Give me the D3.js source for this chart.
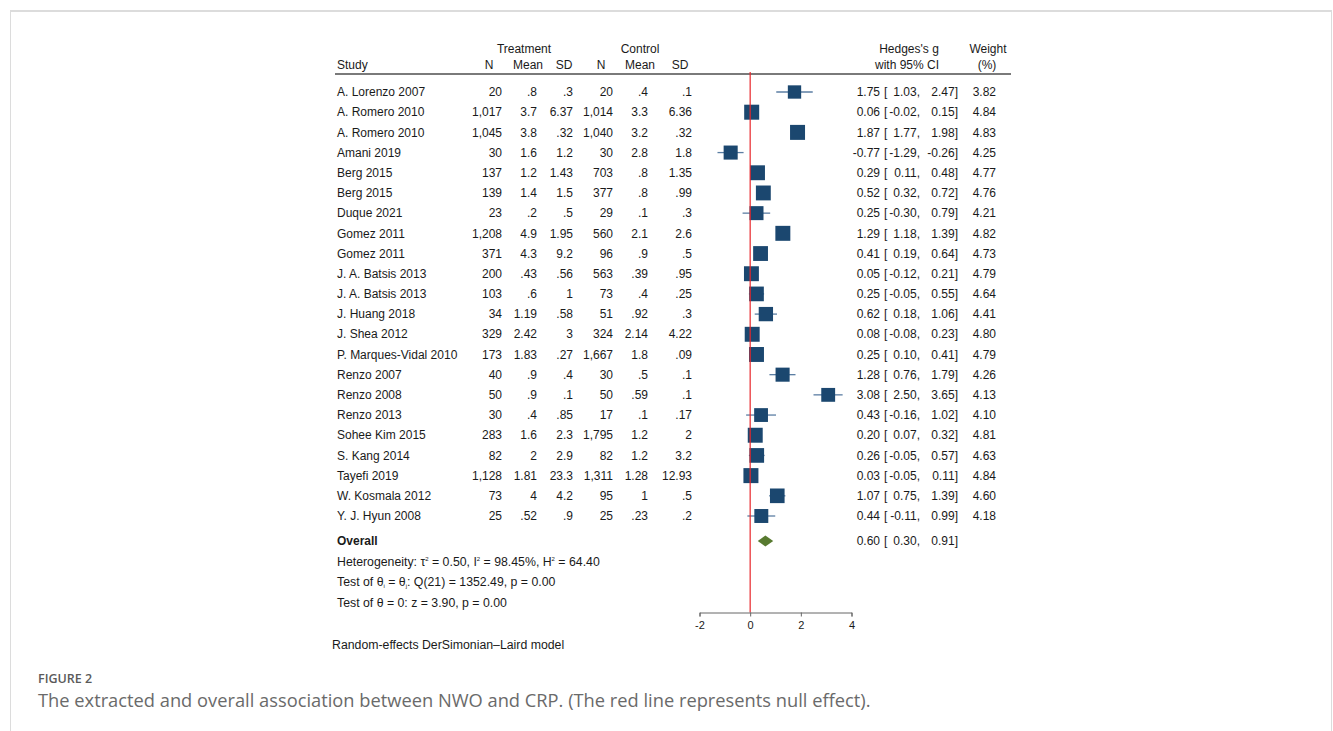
<!DOCTYPE html>
<html>
<head>
<meta charset="utf-8">
<script src="https://cdn.jsdelivr.net/npm/d3@7"></script>
<style>
  body { margin: 0; background: #fff; }
  svg text { font-family: "Liberation Sans", Arial, sans-serif; fill: #1a1a1a; }
  svg text.cap { font-family: "Open Sans", Lato, sans-serif; fill: #6a6a6a; }
</style>
</head>
<body>
<script>
var studies = ["A. Lorenzo 2007", "A. Romero 2010", "A. Romero 2010", "Amani 2019", "Berg 2015", "Berg 2015",
  "Duque 2021", "Gomez 2011", "Gomez 2011", "J. A. Batsis 2013", "J. A. Batsis 2013", "J. Huang 2018",
  "J. Shea 2012", "P. Marques-Vidal 2010", "Renzo 2007", "Renzo 2008", "Renzo 2013", "Sohee Kim 2015",
  "S. Kang 2014", "Tayefi 2019", "W. Kosmala 2012", "Y. J. Hyun 2008"]
var trtN    = [20, 1017, 1045, 30, 137, 139, 23, 1208, 371, 200, 103, 34, 329, 173, 40, 50, 30, 283, 82, 1128, 73, 25]
var trtMean = [.8, 3.7, 3.8, 1.6, 1.2, 1.4, .2, 4.9, 4.3, .43, .6, 1.19, 2.42, 1.83, .9, .9, .4, 1.6, 2, 1.81, 4, .52]
var trtSD   = [.3, 6.37, .32, 1.2, 1.43, 1.5, .5, 1.95, 9.2, .56, 1, .58, 3, .27, .4, .1, .85, 2.3, 2.9, 23.3, 4.2, .9]
var ctlN    = [20, 1014, 1040, 30, 703, 377, 29, 560, 96, 563, 73, 51, 324, 1667, 30, 50, 17, 1795, 82, 1311, 95, 25]
var ctlMean = [.4, 3.3, 3.2, 2.8, .8, .8, .1, 2.1, .9, .39, .4, .92, 2.14, 1.8, .5, .59, .1, 1.2, 1.2, 1.28, 1, .23]
var ctlSD   = [.1, 6.36, .32, 1.8, 1.35, .99, .3, 2.6, .5, .95, .25, .3, 4.22, .09, .1, .1, .17, 2, 3.2, 12.93, .5, .2]
var hedgesG = [1.75, 0.06, 1.87, -0.77, 0.29, 0.52, 0.25, 1.29, 0.41, 0.05, 0.25, 0.62, 0.08, 0.25, 1.28, 3.08, 0.43, 0.20, 0.26, 0.03, 1.07, 0.44]
var ciLow   = [1.03, -0.02, 1.77, -1.29, 0.11, 0.32, -0.30, 1.18, 0.19, -0.12, -0.05, 0.18, -0.08, 0.10, 0.76, 2.50, -0.16, 0.07, -0.05, -0.05, 0.75, -0.11]
var ciHigh  = [2.47, 0.15, 1.98, -0.26, 0.48, 0.72, 0.79, 1.39, 0.64, 0.21, 0.55, 1.06, 0.23, 0.41, 1.79, 3.65, 1.02, 0.32, 0.57, 0.11, 1.39, 0.99]
var weights = [3.82, 4.84, 4.83, 4.25, 4.77, 4.76, 4.21, 4.82, 4.73, 4.79, 4.64, 4.41, 4.80, 4.79, 4.26, 4.13, 4.10, 4.81, 4.63, 4.84, 4.60, 4.18]
var overall = [0.60, 0.30, 0.91]   // estimate, low, high
var xTicks  = [-2, 0, 2, 4]

var rows = studies.map(function(s, i){
  return {study: s, tn: trtN[i], tm: trtMean[i], ts: trtSD[i], cn: ctlN[i], cm: ctlMean[i], cs: ctlSD[i],
    g: hedgesG[i], lo: ciLow[i], hi: ciHigh[i], w: weights[i]}
})

var W = 1333, H = 731
var svg = d3.select('body').append('svg').attr('width', W).attr('height', H)

// page frame
svg.append('rect').attr('x', 10.5).attr('y', 11).attr('width', 1321).attr('height', H)
    .attr('fill', 'none').attr('stroke', '#dcdcdc')
svg.append('line').attr('x1', 10).attr('x2', 1332).attr('y1', 11).attr('y2', 11)
    .attr('stroke', '#dcdcdc').attr('stroke-width', 2)

var x = d3.scaleLinear().domain([-2, 4]).range([699.5, 851.5])
var y = d3.scalePoint().domain(d3.range(rows.length)).range([92, 516])
var side = d3.scaleSqrt().domain([0, d3.max(weights)]).range([0, 15])

// stata style: hyphen minus, no leading zero in the raw data columns
var loc = d3.formatLocale({decimal: '.', thousands: ',', grouping: [3], currency: ['', ''], minus: '-'})
var num = function(v){ return String(v).replace(/^0\./, '.').replace(/^-0\./, '-.') }
var f2 = loc.format('.2f'), fc = loc.format(',')
var fs = 12

// header
var hdr = svg.append('g').attr('font-size', fs)
hdr.append('text').attr('x', 524).attr('y', 49).attr('dy', '0.35em').attr('text-anchor', 'middle').text('Treatment')
hdr.append('text').attr('x', 640).attr('y', 49).attr('dy', '0.35em').attr('text-anchor', 'middle').text('Control')
hdr.append('text').attr('x', 909).attr('y', 49).attr('dy', '0.35em').attr('text-anchor', 'middle').text("Hedges's g")
hdr.append('text').attr('x', 988).attr('y', 49).attr('dy', '0.35em').attr('text-anchor', 'middle').text('Weight')
hdr.append('text').attr('x', 337).attr('y', 65).attr('dy', '0.35em').text('Study')
;[['N', 489], ['Mean', 528], ['SD', 564], ['N', 601], ['Mean', 640], ['SD', 680], ['with 95% CI', 907], ['(%)', 987]]
  .forEach(function(h){
    hdr.append('text').attr('x', h[1]).attr('y', 65).attr('dy', '0.35em').attr('text-anchor', 'middle').text(h[0])
  })
svg.append('line').attr('x1', 335).attr('x2', 1011).attr('y1', 74).attr('y2', 74)
    .attr('stroke', '#7a7a7a').attr('stroke-width', 2)

// table columns
var cols = [
  {x: 502, fn: function(d){ return fc(d.tn) }},
  {x: 537, fn: function(d){ return num(d.tm) }},
  {x: 573, fn: function(d){ return num(d.ts) }},
  {x: 613, fn: function(d){ return fc(d.cn) }},
  {x: 648, fn: function(d){ return num(d.cm) }},
  {x: 692, fn: function(d){ return num(d.cs) }},
  {x: 880, fn: function(d){ return f2(d.g) }},
  {x: 920, fn: function(d){ return f2(d.lo) + ',' }},
  {x: 958, fn: function(d){ return f2(d.hi) + ']' }},
  {x: 996, fn: function(d){ return f2(d.w) }}
]

var row = svg.append('g').attr('font-size', fs).selectAll('g.row')
    .data(rows).enter().append('g').attr('class', 'row')
    .attr('transform', function(d, i){ return 'translate(0,' + y(i) + ')' })

row.append('text').attr('x', 337).attr('dy', '0.35em').text(function(d){ return d.study })
cols.forEach(function(c){
  row.append('text').attr('x', c.x).attr('dy', '0.35em').attr('text-anchor', 'end').text(c.fn)
})
row.append('text').attr('x', 884).attr('dy', '0.35em').text('[')

// null line
svg.append('line').attr('x1', x(0)).attr('x2', x(0)).attr('y1', 72).attr('y2', 612.5)
    .attr('stroke', '#e8262b').attr('stroke-width', 1.2)

// CIs and squares
row.append('line')
    .attr('x1', function(d){ return x(d.lo) }).attr('x2', function(d){ return x(d.hi) })
    .attr('stroke', '#5b7ea3').attr('stroke-width', 1.3)
row.append('rect')
    .attr('x', function(d){ return x(d.g) - side(d.w) / 2 })
    .attr('y', function(d){ return -side(d.w) / 2 })
    .attr('width', function(d){ return side(d.w) }).attr('height', function(d){ return side(d.w) })
    .attr('fill', '#1b476f')

// overall
var oy = 541
svg.append('text').attr('x', 337).attr('y', oy).attr('dy', '0.35em').attr('font-size', 12)
    .attr('font-weight', 'bold').text('Overall')
svg.append('path')
    .attr('d', 'M' + x(overall[1]) + ',' + oy + 'L' + x(overall[0]) + ',' + (oy - 5.5) +
      'L' + x(overall[2]) + ',' + oy + 'L' + x(overall[0]) + ',' + (oy + 5.5) + 'Z')
    .attr('fill', '#587a30')
var ot = svg.append('g').attr('font-size', fs).attr('transform', 'translate(0,' + oy + ')')
ot.append('text').attr('x', 880).attr('dy', '0.35em').attr('text-anchor', 'end').text(f2(overall[0]))
ot.append('text').attr('x', 884).attr('dy', '0.35em').text('[')
ot.append('text').attr('x', 920).attr('dy', '0.35em').attr('text-anchor', 'end').text(f2(overall[1]) + ',')
ot.append('text').attr('x', 958).attr('dy', '0.35em').attr('text-anchor', 'end').text(f2(overall[2]) + ']')

// stats lines (baselines given directly, so tspan dy only shifts super/subscripts)
var st = svg.append('g').attr('font-size', 12.3)
var sup = function(t, parts){
  parts.forEach(function(p){
    if (p.s) t.append('tspan').attr('font-size', 6).attr('dy', -5).text(p.s)
    else if (p.b) t.append('tspan').attr('font-size', 6).attr('dy', 2).text(p.b)
    else t.append('tspan').attr('dy', p.dy || 0).text(p.t)
  })
}
var het = st.append('text').attr('x', 337).attr('y', 566.3)
sup(het, [{t: 'Heterogeneity: τ'}, {s: '2'}, {t: ' = 0.50, I', dy: 5}, {s: '2'}, {t: ' = 98.45%, H', dy: 5}, {s: '2'}, {t: ' = 64.40', dy: 5}])
var q = st.append('text').attr('x', 337).attr('y', 586.3)
sup(q, [{t: 'Test of θ'}, {b: 'i'}, {t: ' = θ', dy: -2}, {b: 'j'}, {t: ': Q(21) = 1352.49, p = 0.00', dy: -2}])
st.append('text').attr('x', 337).attr('y', 603).attr('dy', '0.35em').text('Test of θ = 0: z = 3.90, p = 0.00')
st.append('text').attr('x', 332).attr('y', 645).attr('dy', '0.35em').text('Random-effects DerSimonian–Laird model')

// axis
var ax = svg.append('g').attr('transform', 'translate(0,612.5)')
    .call(d3.axisBottom(x).tickValues(xTicks).tickSizeOuter(0).tickSize(4).tickFormat(loc.format('d')))
ax.select('.domain').attr('stroke', '#666')
ax.selectAll('.tick line').attr('stroke', '#666')
ax.selectAll('.tick text').attr('font-size', 11).attr('font-family', '"Liberation Sans", Arial, sans-serif')
    .attr('fill', '#1a1a1a').attr('y', 9)

// caption
svg.append('text').attr('class', 'cap').attr('x', 38).attr('y', 678.5).attr('dy', '0.35em')
    .attr('font-size', 12.5).attr('font-weight', 600).style('fill', '#5a5a5a').text('FIGURE 2')
svg.append('text').attr('class', 'cap').attr('x', 38).attr('y', 700.5).attr('dy', '0.35em')
    .attr('font-size', 18.3).text('The extracted and overall association between NWO and CRP. (The red line represents null effect).')
</script>
</body>
</html>
